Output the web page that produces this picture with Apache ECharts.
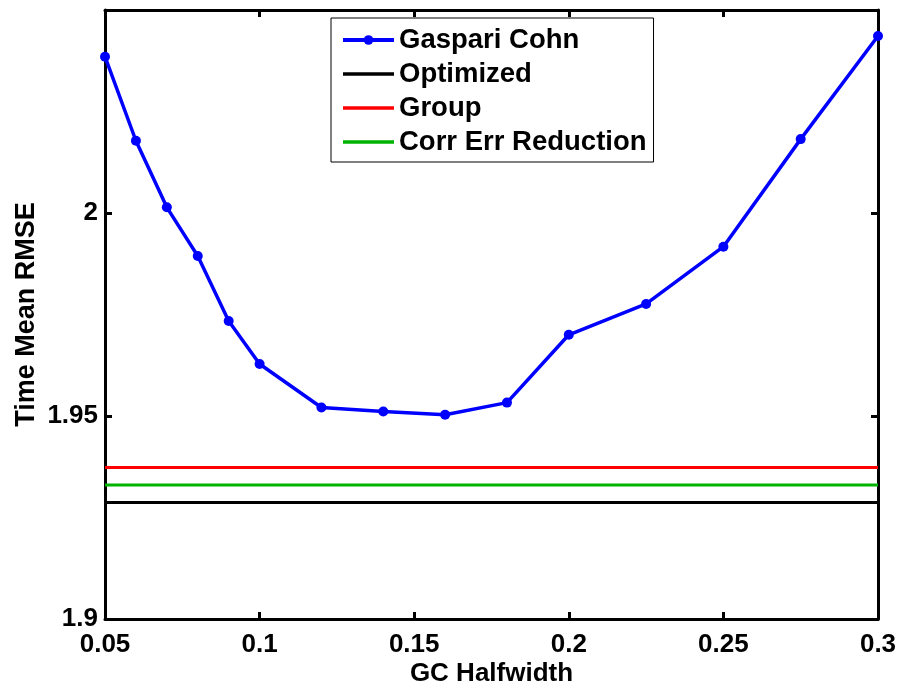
<!DOCTYPE html>
<html>
<head>
<meta charset="utf-8">
<script src="https://cdn.jsdelivr.net/npm/echarts@6/dist/echarts.min.js"></script>
<style>
html,body{margin:0;padding:0;background:#fff;}
#chart{width:900px;height:685px;}
</style>
</head>
<body>
<div id="chart"></div>
<script>
const halfwidths = [0.05, 0.06, 0.07, 0.08, 0.09, 0.1, 0.12, 0.14, 0.16, 0.18, 0.2, 0.225, 0.25, 0.275, 0.3];
const gcRmse = [2.0385, 2.0178, 2.0014, 1.9894, 1.9734, 1.9628, 1.9521, 1.9511, 1.9503, 1.9533, 1.9700, 1.9776, 1.9917, 2.0182, 2.0436];
const optimizedRmse = 1.9287;
const groupRmse = 1.9373;
const corrErrRmse = 1.9330;
const seriesNames = ['Gaspari Cohn', 'Optimized', 'Group', 'Corr Err Reduction'];
const xTitle = 'GC Halfwidth';
const yTitle = 'Time Mean RMSE';

const xMin = halfwidths[0], xMax = halfwidths[halfwidths.length - 1];
const flat = v => [[xMin, v], [xMax, v]];
const FONT = '"Liberation Sans", Arial, Helvetica, sans-serif';

const chart = echarts.init(document.getElementById('chart'), null, {renderer: 'canvas'});

const axisLine = {show: true, onZero: false, lineStyle: {color: '#000', width: 3}};
const axisTick = {show: true, inside: true, length: 7, lineStyle: {color: '#000', width: 3}};

chart.setOption({
  animation: false,
  backgroundColor: '#fff',
  grid: {left: 105, right: 22, top: 10, bottom: 66, containLabel: false, outerBoundsMode: 'none'},
  legend: {
    data: seriesNames.map((n, i) => i === 0
      ? {name: n, lineStyle: {width: 4}}
      : {name: n, itemStyle: {opacity: 0}, lineStyle: {width: 3.5}}),
    orient: 'vertical',
    left: 331,
    top: 18,
    backgroundColor: '#fff',
    borderColor: '#000',
    borderWidth: 1,
    borderRadius: 0,
    padding: [8, 7, 6, 10],
    itemGap: 6,
    itemWidth: 51,
    itemHeight: 12,
    textStyle: {fontFamily: FONT, fontWeight: 'bold', fontSize: 27.5, color: '#000', lineHeight: 28},
    selectedMode: false
  },
  xAxis: [{
    type: 'value', min: xMin, max: xMax, interval: 0.05,
    name: xTitle, nameLocation: 'middle', nameGap: 42, nameMoveOverlap: false,
    nameTextStyle: {fontFamily: FONT, fontWeight: 'bold', fontSize: 26, color: '#000'},
    axisLine: axisLine, axisTick: axisTick, splitLine: {show: false},
    axisLabel: {margin: 13, fontFamily: FONT, fontWeight: 'bold', fontSize: 26, color: '#000',
      formatter: v => String(parseFloat(v.toFixed(3)))}
  }, {
    type: 'value', min: xMin, max: xMax, interval: 0.05, position: 'top',
    axisLine: axisLine, axisTick: axisTick, axisLabel: {show: false}, splitLine: {show: false}
  }],
  yAxis: [{
    type: 'value', min: 1.9, max: 2.05, interval: 0.05,
    name: yTitle, nameLocation: 'middle', nameGap: 65, nameMoveOverlap: false,
    nameTextStyle: {fontFamily: FONT, fontWeight: 'bold', fontSize: 27, color: '#000'},
    axisLine: axisLine, axisTick: axisTick, splitLine: {show: false},
    axisLabel: {margin: 7, fontFamily: FONT, fontWeight: 'bold', fontSize: 26, color: '#000',
      formatter: v => (Math.abs(v - 2.05) < 1e-6 ? '' : String(parseFloat(v.toFixed(3))))}
  }, {
    type: 'value', min: 1.9, max: 2.05, interval: 0.05, position: 'right',
    axisLine: axisLine, axisTick: axisTick, axisLabel: {show: false}, splitLine: {show: false}
  }],
  series: [{
    name: seriesNames[0], type: 'line',
    data: halfwidths.map((x, i) => [x, gcRmse[i]]),
    symbol: 'circle', symbolSize: 10, showSymbol: true,
    lineStyle: {color: '#0000ff', width: 3.5},
    itemStyle: {color: '#0000ff'},
    z: 5
  }, {
    name: seriesNames[1], type: 'line', data: flat(optimizedRmse), symbol: 'none',
    lineStyle: {color: '#000000', width: 3}, itemStyle: {color: '#000000', opacity: 0}
  }, {
    name: seriesNames[2], type: 'line', data: flat(groupRmse), symbol: 'none',
    lineStyle: {color: '#ff0000', width: 3}, itemStyle: {color: '#ff0000', opacity: 0}
  }, {
    name: seriesNames[3], type: 'line', data: flat(corrErrRmse), symbol: 'none',
    lineStyle: {color: '#00b300', width: 3}, itemStyle: {color: '#00b300', opacity: 0}
  }]
});
</script>
</body>
</html>
